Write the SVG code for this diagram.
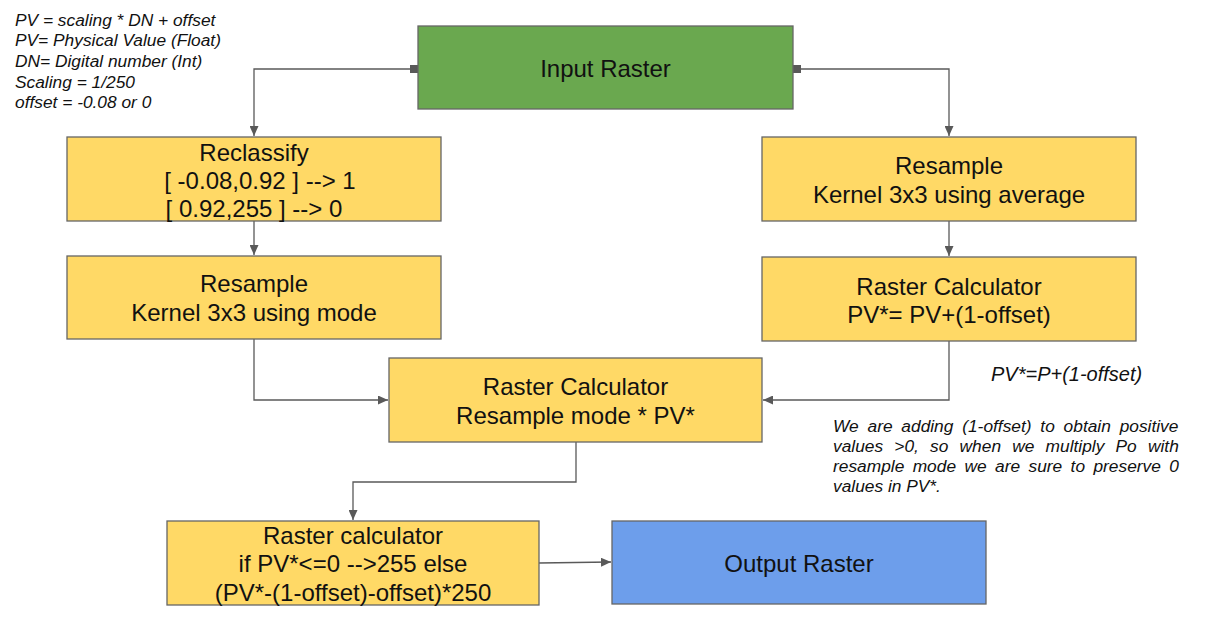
<svg xmlns="http://www.w3.org/2000/svg" width="1207" height="628" viewBox="0 0 1207 628">
<defs>
<marker id="arr" markerUnits="userSpaceOnUse" markerWidth="11" markerHeight="9" refX="10" refY="4.5" orient="auto">
<path d="M0,0 L10,4.5 L0,9 z" fill="#595959"/>
</marker>
<style>
.box{stroke:#666666;stroke-width:1.3}
.y{fill:#ffd966}
.g{fill:#6aa84f}
.b{fill:#6d9eeb}
.t{font-family:"Liberation Sans",Arial,sans-serif;font-size:24px;fill:#111;text-anchor:middle}
.n{font-family:"Liberation Sans",Arial,sans-serif;font-size:17.33px;font-style:italic;fill:#111}
.c{fill:none;stroke:#595959;stroke-width:1.3}
</style>
</defs>
<rect width="1207" height="628" fill="#ffffff"/>

<g id="notes">
<text class="n" x="15" y="25.5">PV = scaling * DN + offset</text>
<text class="n" x="15" y="46.3">PV= Physical Value (Float)</text>
<text class="n" x="15" y="67">DN= Digital number (Int)</text>
<text class="n" x="15" y="87.7">Scaling = 1/250</text>
<text class="n" x="15" y="108.4">offset = -0.08 or 0</text>
</g>

<g id="note-right">
<text class="n" x="991" y="381" style="font-size:20px">PV*=P+(1-offset)</text>
<text class="n" x="833" y="431.5" word-spacing="4">We are adding (1-offset) to obtain positive</text>
<text class="n" x="833" y="451.5" word-spacing="6.4">values &gt;0, so when we multiply Po with</text>
<text class="n" x="833" y="471.5" word-spacing="3.6">resample mode we are sure to preserve 0</text>
<text class="n" x="833" y="491.5">values in PV*.</text>
</g>

<g id="connectors">
<path class="c" d="M414,69 H254 V136" marker-end="url(#arr)"/>
<path class="c" d="M797,69 H949 V136" marker-end="url(#arr)"/>
<path class="c" d="M254,221 V255" marker-end="url(#arr)"/>
<path class="c" d="M949,221 V256" marker-end="url(#arr)"/>
<path class="c" d="M254,339 V400 H388" marker-end="url(#arr)"/>
<path class="c" d="M949,341 V400 H763" marker-end="url(#arr)"/>
<path class="c" d="M576,442 V482 H353 V520" marker-end="url(#arr)"/>
<path class="c" d="M539,563 L611,562" marker-end="url(#arr)"/>
<rect x="410" y="65" width="8" height="8" fill="#595959"/>
<rect x="793" y="65" width="8" height="8" fill="#595959"/>
</g>

<g id="input-raster">
<rect class="box g" x="418" y="26" width="375" height="83"/>
<text class="t" x="605.5" y="76.5">Input Raster</text>
</g>

<g id="reclassify">
<rect class="box y" x="67" y="137" width="374" height="84"/>
<text class="t" x="254" y="161">Reclassify</text>
<text class="t" x="260" y="189">[ -0.08,0.92 ] --&gt; 1</text>
<text class="t" x="254" y="217">[ 0.92,255 ] --&gt; 0</text>
</g>

<g id="resample-mode">
<rect class="box y" x="67" y="256" width="374" height="83"/>
<text class="t" x="254" y="292">Resample</text>
<text class="t" x="254" y="320.5">Kernel 3x3 using mode</text>
</g>

<g id="resample-average">
<rect class="box y" x="762" y="137" width="374" height="84"/>
<text class="t" x="949" y="174">Resample</text>
<text class="t" x="949" y="202.5">Kernel 3x3 using average</text>
</g>

<g id="raster-calc-right">
<rect class="box y" x="762" y="257" width="374" height="84"/>
<text class="t" x="949" y="294.5">Raster Calculator</text>
<text class="t" x="949" y="322.5">PV*= PV+(1-offset)</text>
</g>

<g id="raster-calc-middle">
<rect class="box y" x="389" y="358" width="373" height="84"/>
<text class="t" x="575.5" y="395">Raster Calculator</text>
<text class="t" x="575.5" y="424">Resample mode * PV*</text>
</g>

<g id="raster-calc-bottom">
<rect class="box y" x="167" y="521" width="372" height="84"/>
<text class="t" x="353" y="543.5">Raster calculator</text>
<text class="t" x="353" y="572">if PV*&lt;=0 --&gt;255 else</text>
<text class="t" x="353" y="600.5">(PV*-(1-offset)-offset)*250</text>
</g>

<g id="output-raster">
<rect class="box b" x="612" y="521" width="374" height="83"/>
<text class="t" x="799" y="571.5">Output Raster</text>
</g>
</svg>
